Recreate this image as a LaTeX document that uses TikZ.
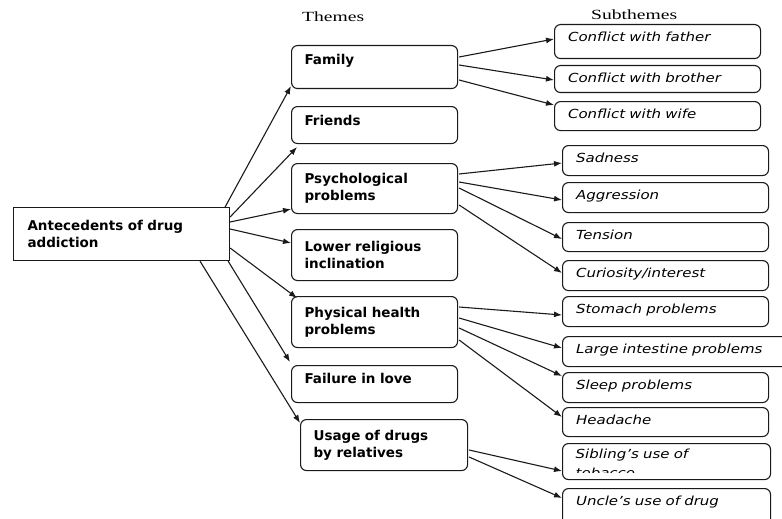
\documentclass[tikz,border=0pt]{standalone}
\usepackage{fontspec}
\setmainfont{DejaVu Sans}
\newfontfamily\subfont[FakeStretch=1.2]{DejaVu Sans}
\newfontfamily\hdrfont[FakeStretch=1.4]{Liberation Serif}
\usetikzlibrary{arrows.meta,calc}
\definecolor{ink}{HTML}{1A1A1A}

\begin{document}
\begin{tikzpicture}[x=1pt, y=-1pt,
  root/.style={draw=ink, line width=1.1pt, font=\bfseries\fontsize{13.5}{17}\selectfont, align=left, text width=188pt, inner xsep=14pt, inner ysep=0pt, minimum height=53pt, anchor=north west},
  theme/.style={draw=ink, line width=1.1pt, rounded corners=6pt, font=\bfseries\fontsize{13.5}{17}\selectfont, align=left, text width=140pt, inner xsep=13pt, inner ysep=0pt, anchor=north west},
  subtxt/.style={font=\subfont\itshape\fontsize{12.5}{15}\selectfont, align=left, text width=179pt, inner xsep=13.5pt, inner ysep=0pt, anchor=north west},
  sub/.style={subtxt, draw=ink, line width=1.1pt, rounded corners=6pt, text height=17pt},
  hdr/.style={font=\hdrfont\fontsize{14}{16}\selectfont, anchor=base west, inner sep=0pt},
  arr/.style={draw=ink, line width=1.1pt, -{Latex[length=8pt,width=6pt]}},
]
\useasboundingbox (0,0) rectangle (782,519);
% ---- headers ----
\node[hdr] (thm) at (302,22) {Themes};
\node[hdr] (sth) at (591,20) {Subthemes};
% ---- root ----
\node[root] (ant) at (13,207) {Antecedents of drug\\addiction};
% ---- themes ----
\node[theme, text height=19pt, text depth=24pt] (fam) at (291,45) {Family};
\node[theme, text height=19pt, text depth=18pt] (frn) at (291,106) {Friends};
\node[theme, minimum height=50pt] (psy) at (291,163) {Psychological\\problems};
\node[theme, minimum height=51pt] (low) at (291,229) {Lower religious\\inclination};
\node[theme, minimum height=51pt] (phy) at (291,296) {Physical health\\problems};
\node[theme, text height=18pt, text depth=19pt] (fai) at (291,365) {Failure in love};
\node[theme, minimum height=51pt, text width=141pt] (usa) at (300,419) {Usage of drugs\\by relatives};
% ---- subthemes ----
\node[sub, text depth=17pt] (fat) at (554,24) {Conflict with father};
\node[sub, text depth=10pt] (bro) at (554,65) {Conflict with brother};
\node[sub, text depth=12pt] (wif) at (554,101) {Conflict with wife};
\node[sub, text depth=13pt] (sad) at (562,145) {Sadness};
\node[sub, text depth=13pt] (agg) at (562,182) {Aggression};
\node[sub, text depth=12pt] (ten) at (562,222) {Tension};
\node[sub, text depth=13pt] (cur) at (562,260) {Curiosity/interest};
\node[sub, text depth=13pt] (sto) at (562,296) {Stomach problems};
\node[sub, text depth=13pt, text width=203pt] (lar) at (562,336) {Large intestine problems};
\node[sub, text depth=13pt] (sle) at (562,372) {Sleep problems};
\node[sub, text depth=12pt] (hea) at (562,407) {Headache};
\node[sub, text depth=19pt, text width=181pt] (sib) at (562,443) {};
% second line cut off by the box, as in the source
\begin{scope}
  \clip (562,443) rectangle (770,472);
  \node[subtxt, inner xsep=0pt] (sibtxt) at (575.5,448.5) {Sibling’s use of\\[4pt]tobacco};
\end{scope}
\node[sub, text depth=23pt, text width=181pt] (unc) at (562,488) {Uncle’s use of drug};
% ---- root to themes ----
\draw[arr] ($(ant.north east)+(-5,0)$) -- ($(fam.south west)+(0,-3)$);
\draw[arr] ($(ant.north east)+(0,10)$) -- ($(frn.south west)+(6,3)$);
\draw[arr] ($(ant.north east)+(0,15)$) -- ($(psy.south west)+(0,-5)$);
\draw[arr] ($(ant.north east)+(0,22)$) -- ($(low.north west)+(0,14)$);
\draw[arr] ($(ant.north east)+(0,41)$) -- ($(phy.north west)+(6,2)$);
\draw[arr] ($(ant.south east)+(-2,0)$) -- ($(fai.north west)+(-1,-3)$);
\draw[arr] ($(ant.south west)+(187,0)$) -- ($(usa.north west)+(0,4)$);
% ---- themes to subthemes ----
\foreach \src/\dy/\dst/\ey in {fam/12/fat/15, fam/20/bro/15, fam/35/wif/4,
    psy/11/sad/18, psy/19/agg/18, psy/25/ten/17, psy/42/cur/13,
    phy/11/sto/19, phy/22/lar/12, phy/32/sle/4, phy/44/hea/10,
    usa/31/sib/28, usa/38/unc/10}
  \draw[arr] ($(\src.north east)+(1,\dy)$) -- ($(\dst.north west)+(0,\ey)$);
\end{tikzpicture}
\end{document}
